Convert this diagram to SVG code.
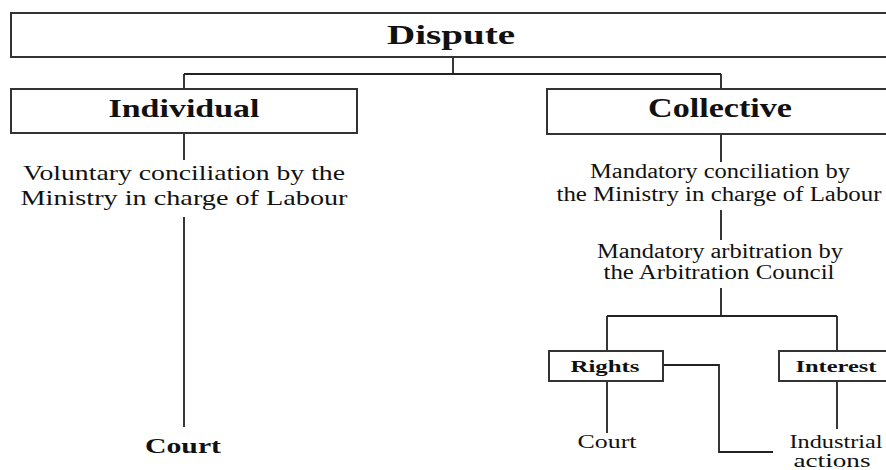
<svg xmlns="http://www.w3.org/2000/svg" width="886" height="470" viewBox="0 0 886 470">
<style>
.box{fill:#fff;stroke:#333;stroke-width:2}
.ln{fill:none;stroke:#222;stroke-width:1.8}
text{font-family:"Liberation Serif","Times New Roman",serif;fill:#111;text-anchor:middle}
.b{font-weight:bold}
</style>
<rect width="886" height="470" fill="#fff"/>
<g id="connectors">
<path class="ln" d="M453 57V74M184 74H721M184 74V89M721 74V89"/>
<path class="ln" d="M184 133V160M184 217V427"/>
<path class="ln" d="M721 134V162M721 210V240M721 288V316M607 316H837M607 316V351M837 316V351"/>
<path class="ln" d="M663 365H719V452H773"/>
<path class="ln" d="M607 381V433M837 381V429"/>
</g>
<g id="dispute">
<rect class="box" x="11" y="13" width="890" height="44"/>
<text class="b" x="451" y="44" font-size="28" textLength="128" lengthAdjust="spacingAndGlyphs">Dispute</text>
</g>
<g id="individual">
<rect class="box" x="11" y="89" width="346" height="44"/>
<text class="b" x="184" y="117" font-size="26" textLength="151" lengthAdjust="spacingAndGlyphs">Individual</text>
</g>
<g id="collective">
<rect class="box" x="547" y="89" width="350" height="45"/>
<text class="b" x="720" y="117" font-size="27" textLength="144" lengthAdjust="spacingAndGlyphs">Collective</text>
</g>
<g id="voluntary">
<text x="184" y="180" font-size="22" textLength="322" lengthAdjust="spacingAndGlyphs">Voluntary conciliation by the</text>
<text x="184" y="205" font-size="22" textLength="327" lengthAdjust="spacingAndGlyphs">Ministry in charge of Labour</text>
</g>
<g id="court-left">
<text class="b" x="183" y="453" font-size="22" textLength="76" lengthAdjust="spacingAndGlyphs">Court</text>
</g>
<g id="mandatory-conciliation">
<text x="720" y="178" font-size="20" textLength="260" lengthAdjust="spacingAndGlyphs">Mandatory conciliation by</text>
<text x="719" y="201" font-size="20" textLength="325" lengthAdjust="spacingAndGlyphs">the Ministry in charge of Labour</text>
</g>
<g id="mandatory-arbitration">
<text x="720" y="258" font-size="20" textLength="246" lengthAdjust="spacingAndGlyphs">Mandatory arbitration by</text>
<text x="719" y="279" font-size="20" textLength="231" lengthAdjust="spacingAndGlyphs">the Arbitration Council</text>
</g>
<g id="rights">
<rect class="box" x="549" y="351" width="114" height="30"/>
<text class="b" x="605" y="372" font-size="17" textLength="69" lengthAdjust="spacingAndGlyphs">Rights</text>
</g>
<g id="interest">
<rect class="box" x="779" y="351" width="120" height="30"/>
<text class="b" x="836" y="372" font-size="17" textLength="81" lengthAdjust="spacingAndGlyphs">Interest</text>
</g>
<g id="court-right">
<text x="607" y="448" font-size="18" textLength="59" lengthAdjust="spacingAndGlyphs">Court</text>
</g>
<g id="industrial">
<text x="836" y="448" font-size="18" textLength="93" lengthAdjust="spacingAndGlyphs">Industrial</text>
<text x="832" y="467" font-size="18" textLength="77" lengthAdjust="spacingAndGlyphs">actions</text>
</g>
</svg>
